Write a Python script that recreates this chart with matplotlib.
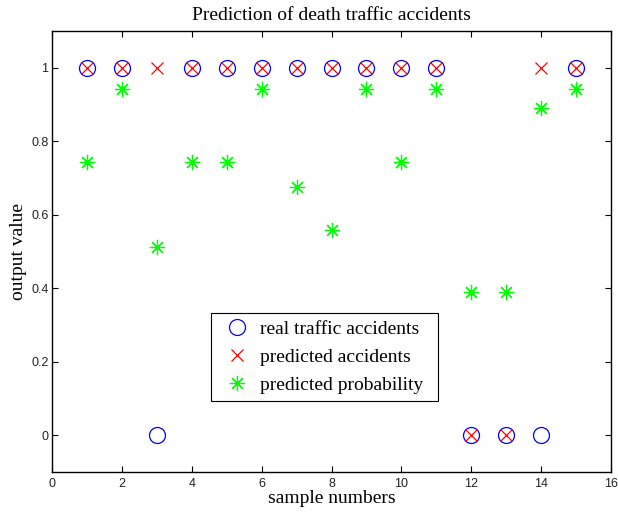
import numpy as np
import matplotlib
matplotlib.use('Agg')
from matplotlib import pyplot as plt

# sample data
samples = np.arange(1, 16)
real = [1, 1, 0, 1, 1, 1, 1, 1, 1, 1, 1, 0, 0, 0, 1]
predicted = [1, 1, 1, 1, 1, 1, 1, 1, 1, 1, 1, 0, 0, 1, 1]
probability = [0.744, 0.942, 0.512, 0.744, 0.744, 0.942, 0.675, 0.559,
               0.942, 0.744, 0.942, 0.390, 0.390, 0.891, 0.942]

fig = plt.figure(figsize=(6.18, 5.15), dpi=100)
ax = fig.add_axes([52 / 618, 1 - 472 / 515, 559 / 618, 441 / 515])

ax.plot(samples, real, linestyle='none', marker='o', markersize=11.5,
        markerfacecolor='none', markeredgecolor='#0000ff', markeredgewidth=0.9,
        label='real traffic accidents')
ax.plot(samples, predicted, linestyle='none', marker='x', markersize=8,
        color='#ff0000', markeredgewidth=0.9, label='predicted accidents')
ax.plot(samples, probability, linestyle='none', marker=(8, 2, 0), markersize=11,
        color='#00ff00', markeredgewidth=0.9, label='predicted probability')

ax.set_xlim(0, 16)
ax.set_ylim(-0.1, 1.1)
ax.set_xticks(np.arange(0, 17, 2))
ax.set_yticks([0, 0.2, 0.4, 0.6, 0.8, 1])
ax.set_yticklabels(['0', '0.2', '0.4', '0.6', '0.8', '1'])
ax.tick_params(direction='in', top=True, right=True, length=4, width=0.8,
               labelsize=9)
ax.tick_params(axis='x', pad=4)
ax.tick_params(axis='y', pad=2.5)
for lbl in ax.get_xticklabels() + ax.get_yticklabels():
    lbl.set_family('Liberation Sans')
    lbl.set_color('#222222')
for s in ax.spines.values():
    s.set_linewidth(1.0)

ax.set_title('Prediction of death traffic accidents', family='Liberation Serif',
             fontsize=14, pad=8)
ax.set_xlabel('sample numbers', family='Liberation Serif', fontsize=14, labelpad=0)
ax.set_ylabel('output value', family='Liberation Serif', fontsize=14, labelpad=3)

leg = ax.legend(loc='lower left', bbox_to_anchor=(0.284, 0.161, 0.406, 0.2),
                mode='expand', prop={'family': 'Liberation Serif', 'size': 14},
                fancybox=False, framealpha=1, edgecolor='black',
                borderaxespad=0, handletextpad=0.2, borderpad=0.35,
                labelspacing=0.55, handlelength=1.97)
leg.get_frame().set_linewidth(0.8)

fig.savefig('out.png', dpi=100)
